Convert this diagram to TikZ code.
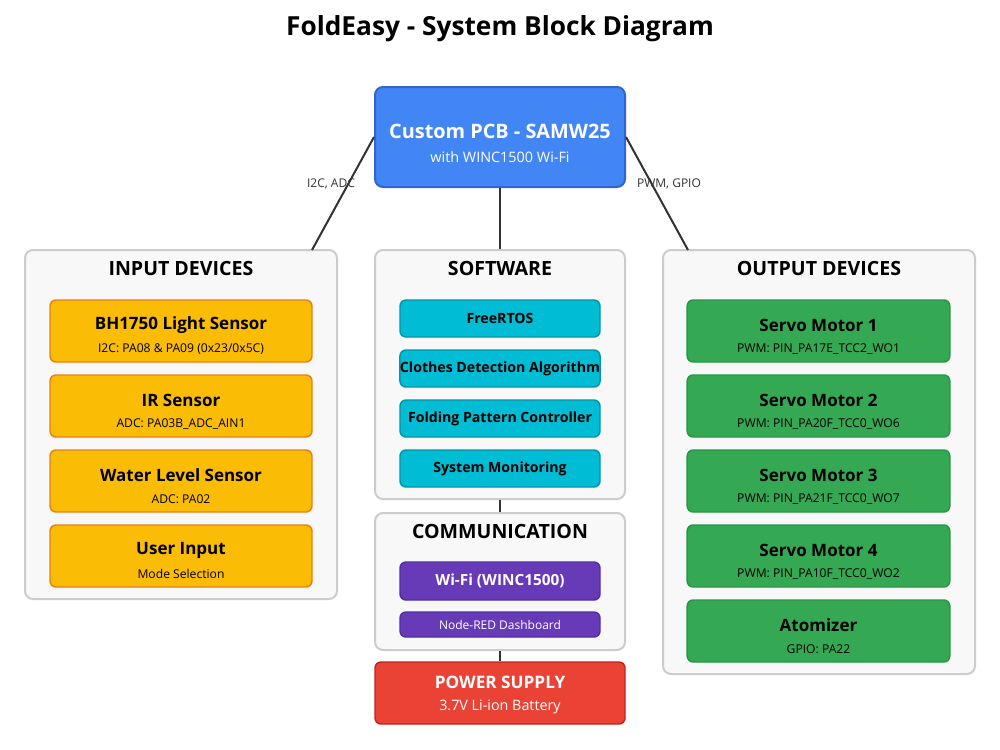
\documentclass[tikz,border=0pt]{standalone}
\usepackage{fontspec}
\setmainfont{Open Sans}
\usetikzlibrary{calc}
\definecolor{pcbfill}{RGB}{66,133,244}
\definecolor{pcbdraw}{RGB}{50,100,210}
\definecolor{panfill}{RGB}{248,248,248}
\definecolor{pandraw}{RGB}{204,204,204}
\definecolor{yelfill}{RGB}{251,188,5}
\definecolor{yeldraw}{RGB}{232,128,20}
\definecolor{cyfill}{RGB}{0,188,212}
\definecolor{cydraw}{RGB}{0,151,167}
\definecolor{pufill}{RGB}{103,58,183}
\definecolor{pudraw}{RGB}{81,45,168}
\definecolor{grfill}{RGB}{52,168,83}
\definecolor{grdraw}{RGB}{40,150,70}
\definecolor{rdfill}{RGB}{234,67,53}
\definecolor{rddraw}{RGB}{197,34,31}
\definecolor{lnk}{RGB}{51,51,51}
\newcommand{\fsz}[1]{\fontsize{#1}{#1}\selectfont}
\tikzset{
  px/.style={x=0.75pt,y=-0.75pt},
  panel/.style={draw=pandraw,fill=panfill,line width=1.5pt,rounded corners=6pt,minimum width=#1},
  item/.style={rounded corners=4.5pt,line width=1.1pt,align=center,inner sep=0pt},
  ybox/.style={item,draw=yeldraw,fill=yelfill,minimum width=196.5pt,minimum height=46.5pt},
  gbox/.style={item,draw=grdraw,fill=grfill,minimum width=197pt,minimum height=46.5pt},
  cbox/.style={item,draw=cydraw,fill=cyfill,minimum width=150pt,minimum height=27.75pt,font=\bfseries\fsz{10.6}},
  pbox/.style={item,draw=pudraw,fill=pufill,text=white,minimum width=150pt},
  ptitle/.style={font=\bfseries\fsz{14.7},inner sep=0pt},
  ititle/.style={font=\bfseries\fsz{12.75},inner sep=0pt},
  isub/.style={font=\fsz{9.1},inner sep=0pt},
  link/.style={draw=lnk,line width=1.5pt},
  lbl/.style={font=\fsz{9},text=lnk,inner sep=0pt},
}
\begin{document}
\begin{tikzpicture}[px]
\useasboundingbox[fill=white] (0,0) rectangle (1000,750);
\node[font=\bfseries\fsz{19.7},inner sep=0pt] (title) at (500,29) {FoldEasy - System Block Diagram};

% PCB
\node[draw=pcbdraw,fill=pcbfill,line width=1.5pt,rounded corners=6pt,minimum width=187.5pt,minimum height=75pt,inner sep=0pt] (pcb) at (500,137) {};
\node[font=\bfseries\fsz{14.9},text=white,inner sep=0pt] (pcbt) at (500,131) {Custom PCB - SAMW25};
\node[font=\fsz{10.8},text=white,inner sep=0pt] (pcbs) at (500,157) {with WINC1500 Wi-Fi};

% panels
\node[panel=234pt,minimum height=261.75pt] (inp) at (181,424.5) {};
\node[panel=187.5pt,minimum height=186.75pt] (sw) at (500,374.5) {};
\node[panel=187.5pt,minimum height=102.75pt] (com) at (500,581.5) {};
\node[panel=234pt,minimum height=318pt] (out) at (819,462) {};
\node[draw=rddraw,fill=rdfill,line width=1.1pt,rounded corners=4.5pt,minimum width=187.5pt,minimum height=46.5pt,inner sep=0pt] (pwr) at (500,693) {};
\node[font=\bfseries\fsz{12.9},text=white,inner sep=0pt] (pwrt) at (500,682) {POWER SUPPLY};
\node[font=\fsz{10.75},text=white,inner sep=0pt] (pwrs) at (500,707) {3.7V Li-ion Battery};

\node[ptitle] (inpt) at (181,268) {INPUT DEVICES};
\node[ptitle] (swt) at (500,268) {SOFTWARE};
\node[ptitle] (comt) at (500,531) {COMMUNICATION};
\node[ptitle] (outt) at (819,268) {OUTPUT DEVICES};

% input items
\node[ybox] (i1) at (181,331) {};
\node[ybox] (i2) at (181,406) {};
\node[ybox] (i3) at (181,481) {};
\node[ybox] (i4) at (181,556) {};
\node[ititle] (i1t) at (181,325) {BH1750 Light Sensor};
\node[isub] (i1s) at (181,349) {I2C: PA08 \& PA09 (0x23/0x5C)};
\node[ititle] (i2t) at (181,400) {IR Sensor};
\node[isub] (i2s) at (181,424) {ADC: PA03B\_ADC\_AIN1};
\node[ititle] (i3t) at (181,475) {Water Level Sensor};
\node[isub] (i3s) at (181,499) {ADC: PA02};
\node[ititle] (i4t) at (181,550) {User Input};
\node[isub] (i4s) at (181,574) {Mode Selection};

% output items
\node[gbox] (o1) at (818.5,331) {};
\node[gbox] (o2) at (818.5,406) {};
\node[gbox] (o3) at (818.5,481) {};
\node[gbox] (o4) at (818.5,556) {};
\node[gbox] (o5) at (818.5,631) {};
\node[ititle] (o1t) at (818.5,325) {Servo Motor 1};
\node[isub] (o1s) at (818.5,349) {PWM: PIN\_PA17E\_TCC2\_WO1};
\node[ititle] (o2t) at (818.5,400) {Servo Motor 2};
\node[isub] (o2s) at (818.5,424) {PWM: PIN\_PA20F\_TCC0\_WO6};
\node[ititle] (o3t) at (818.5,475) {Servo Motor 3};
\node[isub] (o3s) at (818.5,499) {PWM: PIN\_PA21F\_TCC0\_WO7};
\node[ititle] (o4t) at (818.5,550) {Servo Motor 4};
\node[isub] (o4s) at (818.5,574) {PWM: PIN\_PA10F\_TCC0\_WO2};
\node[ititle] (o5t) at (818.5,625) {Atomizer};
\node[isub] (o5s) at (818.5,649) {GPIO: PA22};

% software items
\node[cbox] (s1) at (500,318.5) {FreeRTOS};
\node[cbox] (s2) at (500,368.5) {Clothes Detection Algorithm};
\node[cbox] (s3) at (500,418.5) {Folding Pattern Controller};
\node[cbox] (s4) at (500,468.5) {System Monitoring};

% communication items
\node[pbox,minimum height=28.5pt,font=\bfseries\fsz{11.5}] (c1) at (500,581) {Wi-Fi (WINC1500)};
\node[pbox,minimum height=18.75pt,font=\fsz{9}] (c2) at (500,624.5) {Node-RED Dashboard};

% connectors
\coordinate (inpT) at (312,250);
\coordinate (outT) at (688,250);
\draw[link] (pcb.west) -- (inpT);
\draw[link] (pcb.east) -- (outT);
\draw[link] (pcb.south) -- (sw.north);
\draw[link] (sw.south) -- (com.north);
\draw[link] (com.south) -- (pwr.north);
\node[lbl] (l1) at (331,184) {I2C, ADC};
\node[lbl] (l2) at (669,184) {PWM, GPIO};
\end{tikzpicture}
\end{document}
